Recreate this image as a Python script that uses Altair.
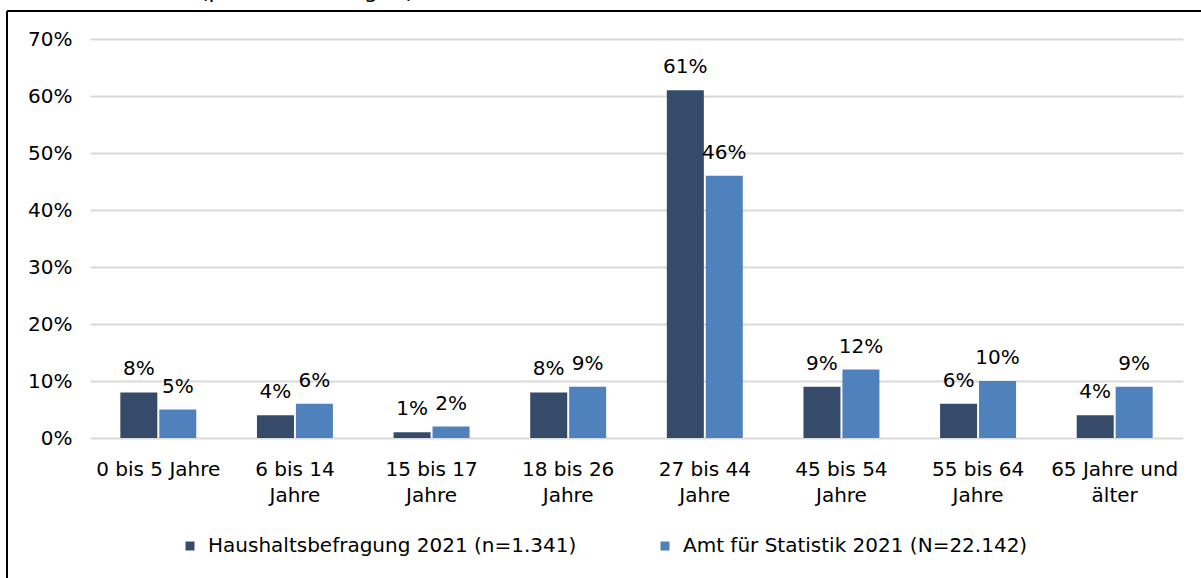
import altair as alt
import pandas as pd

FONT = "DejaVu Sans"

# Age groups (line breaks mark how the axis labels wrap)
age_groups = [
    "0 bis 5 Jahre",
    "6 bis 14\nJahre",
    "15 bis 17\nJahre",
    "18 bis 26\nJahre",
    "27 bis 44\nJahre",
    "45 bis 54\nJahre",
    "55 bis 64\nJahre",
    "65 Jahre und\nälter",
]
series_names = [
    "Haushaltsbefragung 2021 (n=1.341)",
    "Amt für Statistik 2021 (N=22.142)",
]
survey_share = [0.08, 0.04, 0.01, 0.08, 0.61, 0.09, 0.06, 0.04]
official_share = [0.05, 0.06, 0.02, 0.09, 0.46, 0.12, 0.10, 0.09]
y_ticks = [0.0, 0.1, 0.2, 0.3, 0.4, 0.5, 0.6, 0.7]
series_colors = ["#364B6A", "#4F81BD"]
subtitle = "(personenbezogen)"

rows = []
for name, values in zip(series_names, [survey_share, official_share]):
    for group, value in zip(age_groups, values):
        rows.append({"group": group, "series": name, "share": value})
df = pd.DataFrame(rows)

x_enc = alt.X(
    "group:N",
    sort=age_groups,
    scale=alt.Scale(paddingInner=0.444, paddingOuter=0.222),
    axis=alt.Axis(
        title=None,
        labelExpr="split(datum.label, '\\n')",
        labelAngle=0,
        ticks=False,
        domain=False,
        labelPadding=21,
        labelLineHeight=26,
        labelFontSize=20,
        labelFont=FONT,
        labelColor="#000000",
        labelLimit=300,
    ),
)
xoff_enc = alt.XOffset(
    "series:N", sort=series_names, scale=alt.Scale(paddingInner=0.05, paddingOuter=0)
)
y_enc = alt.Y(
    "share:Q",
    scale=alt.Scale(domain=[0, 0.7], nice=False),
    axis=alt.Axis(
        values=y_ticks,
        format=".0%",
        title=None,
        ticks=False,
        domain=False,
        grid=True,
        gridColor="#D9D9D9",
        gridWidth=2,
        labelPadding=18,
        labelFontSize=20,
        labelFont=FONT,
        labelColor="#000000",
    ),
)

base = alt.Chart(df)

bars = base.mark_bar().encode(
    x=x_enc,
    xOffset=xoff_enc,
    y=y_enc,
    color=alt.Color(
        "series:N",
        sort=series_names,
        scale=alt.Scale(domain=series_names, range=series_colors),
        legend=alt.Legend(
            title=None,
            orient="none",
            legendX=90,
            legendY=497,
            direction="horizontal",
            symbolType="square",
            symbolSize=81,
            symbolStrokeWidth=0,
            labelFontSize=20,
            labelFont=FONT,
            labelColor="#000000",
            labelOffset=8,
            labelLimit=600,
            columnPadding=78,
            padding=0,
        ),
    ),
)

labels = base.mark_text(
    baseline="alphabetic", dy=-17, fontSize=20, font=FONT, color="#000000"
).encode(
    x=alt.X("group:N", sort=age_groups),
    xOffset=alt.XOffset("series:N", sort=series_names),
    y=alt.Y("share:Q"),
    text=alt.Text("share:Q", format=".0%"),
)

one = pd.DataFrame({"t": [subtitle]})

# Outer frame of the chart area
frame_left = alt.Chart(one).mark_rule(color="#000000", strokeWidth=2).encode(
    x=alt.value(-83), y=alt.value(-28), y2=alt.value(560)
)
frame_top = alt.Chart(one).mark_rule(color="#000000", strokeWidth=2).encode(
    x=alt.value(-83), x2=alt.value(1200), y=alt.value(-28)
)
head = alt.Chart(one).mark_text(
    fontSize=22, font=FONT, color="#000000", baseline="alphabetic", align="center"
).encode(text="t:N", x=alt.value(217), y=alt.value(-41))

chart = (
    alt.layer(bars, labels, frame_left, frame_top, head)
    .properties(
        width=1093,
        height=399,
        autosize=alt.AutoSizeParams(type="none"),
        padding={"left": 90, "top": 39, "right": 18, "bottom": 140},
    )
    .configure_view(stroke=None)
)

chart.save("out.html", embed_options={"renderer": "svg", "actions": False})
